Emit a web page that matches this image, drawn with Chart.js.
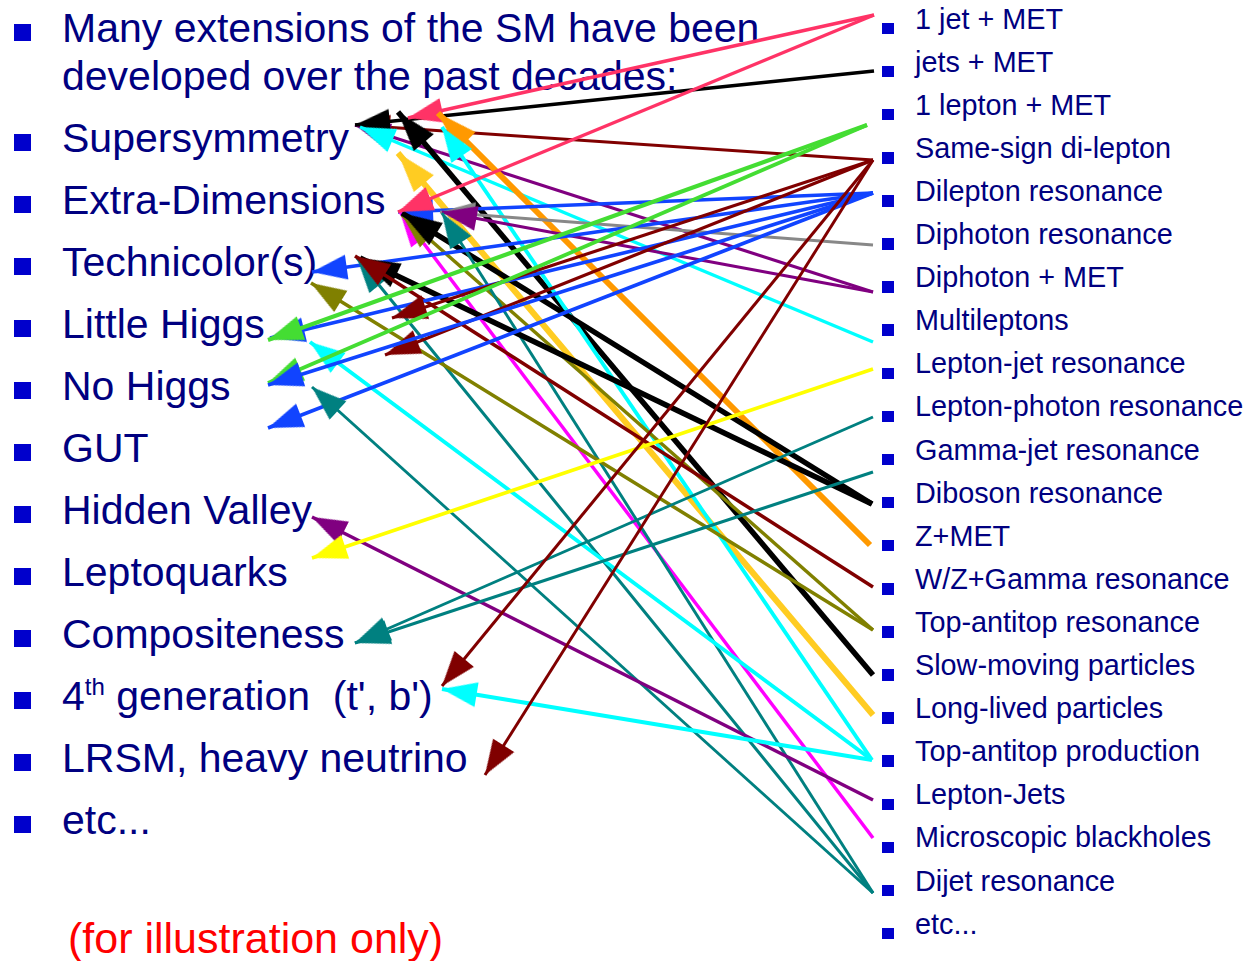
<!DOCTYPE html>
<html>
<head>
<meta charset="utf-8">
<script src="https://cdn.jsdelivr.net/npm/chart.js@4.4.1/dist/chart.umd.min.js"></script>
<style>
  body { margin: 0; background: #fff; }
  #slide { position: relative; width: 1249px; height: 961px; overflow: hidden; background: #fff;
           font-family: "Liberation Sans", Arial, sans-serif; }
  #slide div.t { position: absolute; white-space: nowrap; }
  #slide div.b { position: absolute; }
  #c { position: absolute; left: 0; top: 0; }
</style>
</head>
<body>
<div id="slide">
  <canvas id="c" width="1249" height="961"></canvas>
</div>
<script>
// left column: models
var intro = ["Many extensions of the SM have been", "developed over the past decades:"];
var theories = ["Supersymmetry", "Extra-Dimensions", "Technicolor(s)", "Little Higgs", "No Higgs", "GUT",
    "Hidden Valley", "Leptoquarks", "Compositeness", "4th generation  (t', b')", "LRSM, heavy neutrino", "etc..."];
var note = "(for illustration only)";

// right column: signatures
var signatures = ["1 jet + MET", "jets + MET", "1 lepton + MET", "Same-sign di-lepton", "Dilepton resonance",
    "Diphoton resonance", "Diphoton + MET", "Multileptons", "Lepton-jet resonance", "Lepton-photon resonance",
    "Gamma-jet resonance", "Diboson resonance", "Z+MET", "W/Z+Gamma resonance", "Top-antitop resonance",
    "Slow-moving particles", "Long-lived particles", "Top-antitop production", "Lepton-Jets",
    "Microscopic blackholes", "Dijet resonance", "etc..."];

// where each signature's arrows start (slide units)
var anchorX = [874, 874, 867, 873, 873, 873, 873, 873, 873, 873, 873, 872, 870, 873, 873, 873, 873, 872, 873, 873, 873];
var anchorY = [15, 71, 125, 160, 193, 245, 292, 342, 369, 417, 472, 504, 545, 587, 630, 675, 715, 760, 800, 838, 893];

// links: signature -> model, in drawing order (later on top)
var linkSignature = [3, 6, 1, 7, 15, 0, 16, 12, 17, 4, 19, 14, 11, 0, 5, 6, 20, 4, 20, 11, 13, 14,
    4, 2, 17, 3, 3, 2, 4, 4, 20, 18, 8, 9, 10, 3, 17, 3];
var linkTipX = [355, 355, 355, 360, 398, 408, 398, 438, 442, 398, 400, 402, 402, 398, 440, 442, 442, 312, 357, 360, 355, 311,
    270, 268, 310, 392, 385, 268, 268, 268, 312, 312, 312, 355, 355, 442, 442, 485];
var linkTipY = [125, 125, 125, 127, 112, 118, 153, 113, 127, 212, 212, 215, 213, 212, 212, 212, 213, 272, 258, 258, 256, 283,
    338, 340, 342, 318, 355, 383, 385, 428, 387, 517, 558, 643, 643, 686, 689, 775];

// styles per signature
var sigColor = ["#ff3366", "#000000", "#44dd33", "#800000", "#1144ff", "#888888", "#800080", "#00ffff", "#ffff00",
    "#008080", "#008080", "#000000", "#ff9900", "#800000", "#808000", "#000000", "#ffcc22", "#00ffff", "#800080",
    "#ff00ff", "#008080"];
var sigWidth = [3.5, 3.5, 4, 3, 3.5, 3, 3, 3.5, 3.5, 3, 3, 5.5, 6, 3.5, 3.5, 5.5, 6, 4, 3.5, 3.5, 3];

var slide = document.getElementById('slide');
function addText(txt, x, top, size, color) {
    var d = document.createElement('div');
    d.className = 't';
    d.style.left = x + 'px';
    d.style.top = top + 'px';
    d.style.fontSize = size + 'px';
    d.style.lineHeight = size + 'px';
    d.style.color = color;
    var m = txt.match(/^(\d)(th)(.*)$/);
    if (m) {
        d.appendChild(document.createTextNode(m[1]));
        var s = document.createElement('span');
        s.textContent = m[2];
        s.style.fontSize = '24px';
        s.style.position = 'relative';
        s.style.top = '-15px';
        d.appendChild(s);
        d.appendChild(document.createTextNode(m[3].replace('  ', '\u00a0 ')));
    } else {
        d.textContent = txt;
    }
    slide.insertBefore(d, slide.firstChild);
}
function addBullet(x, top, size) {
    var b = document.createElement('div');
    b.className = 'b';
    b.style.left = x + 'px';
    b.style.top = top + 'px';
    b.style.width = size + 'px';
    b.style.height = size + 'px';
    b.style.background = '#0000cc';
    slide.insertBefore(b, slide.firstChild);
}

// left list
addBullet(14, 24, 17);
addText(intro[0], 62, 43 - 35, 41, '#000080');
addText(intro[1], 62, 91 - 35, 41, '#000080');
theories.forEach(function (t, i) {
    var base = 153 + 62 * i;
    addBullet(14, base - 19, 17);
    addText(t, 62, base - 35, 41, '#000080');
});
addText(note, 68, 953 - 36.5, 43, '#ff0000');

// right list
signatures.forEach(function (t, i) {
    var base = 29 + 43.1 * i;
    addBullet(882, base - 6.3, 11.5);
    addText(t, 915, base - 24.5, 28.8, '#000080');
});

// arrowhead images, tip at the centre, pointing to -x
var heads = {};
function head(color, w) {
    var len = w >= 5 ? 40 : 35, hw = w >= 5 ? 13 : 12.5;
    var key = color + w;
    if (heads[key]) return heads[key];
    var s = len + 2;
    var cv = document.createElement('canvas');
    cv.width = cv.height = 2 * s;
    var g = cv.getContext('2d');
    g.fillStyle = color;
    g.beginPath();
    g.moveTo(s, s);
    g.lineTo(s + len, s - hw);
    g.lineTo(s + len, s + hw);
    g.closePath();
    g.fill();
    heads[key] = cv;
    return cv;
}

function arrowRotation(c) {
    var d = c.dataset.data, sx = c.chart.scales.x, sy = c.chart.scales.y;
    var dx = sx.getPixelForValue(d[1].x) - sx.getPixelForValue(d[0].x);
    var dy = sy.getPixelForValue(d[1].y) - sy.getPixelForValue(d[0].y);
    return Math.atan2(dy, dx) * 180 / Math.PI - 180;
}

var datasets = linkSignature.map(function (s, i) {
    return {
        data: [{x: anchorX[s], y: anchorY[s]}, {x: linkTipX[i], y: linkTipY[i]}],
        showLine: true,
        borderColor: sigColor[s],
        borderWidth: sigWidth[s],
        borderCapStyle: 'butt',
        pointRadius: [0, 20],
        pointHoverRadius: [0, 20],
        pointStyle: head(sigColor[s], sigWidth[s]),
        rotation: arrowRotation,
        order: -i,
        clip: false
    };
});

var linkChart = new Chart(document.getElementById('c'), {
    type: 'scatter',
    data: { datasets: datasets },
    options: {
        responsive: false,
        animation: false,
        devicePixelRatio: 1,
        events: [],
        layout: { padding: 0, autoPadding: false },
        plugins: { legend: { display: false }, tooltip: { enabled: false } },
        scales: {
            x: { type: 'linear', min: 0, max: 1249, display: false },
            y: { type: 'linear', min: 0, max: 961, reverse: true, display: false }
        }
    }
});
</script>
</body>
</html>
